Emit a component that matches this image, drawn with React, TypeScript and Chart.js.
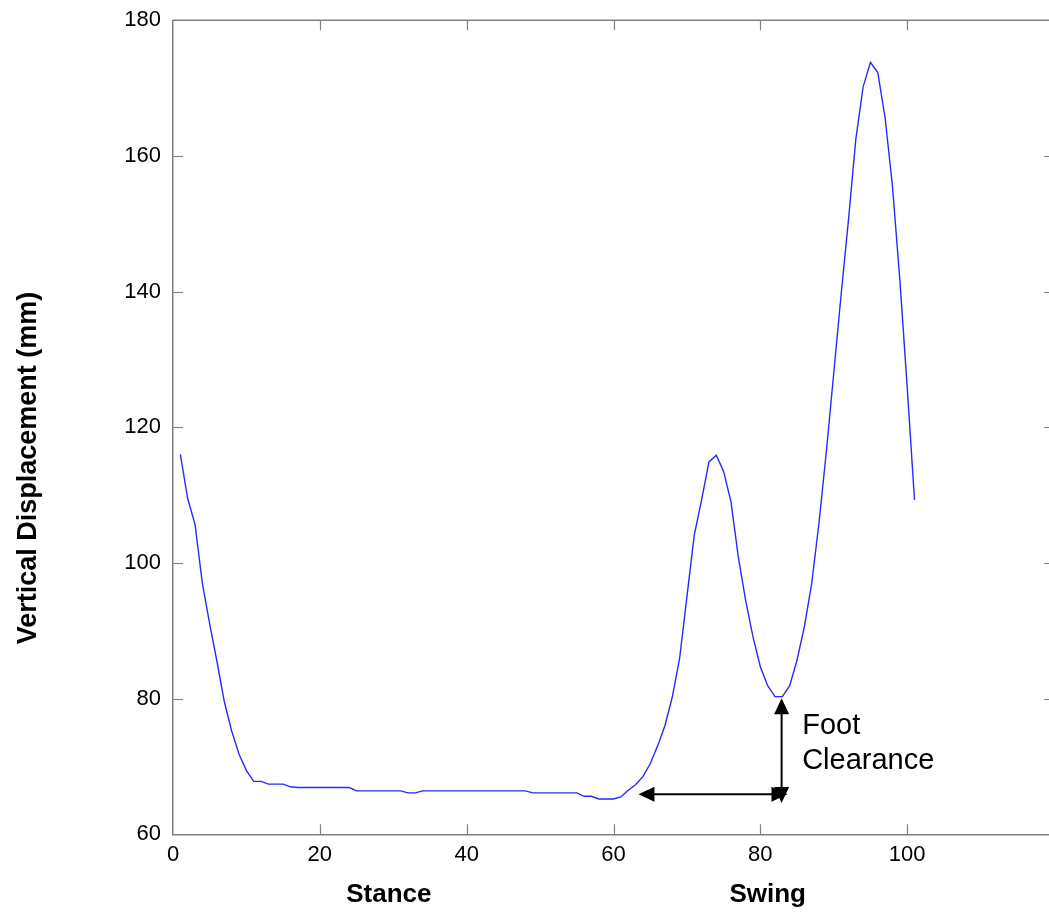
import React, { useEffect, useRef } from "react";
import { Chart, registerables } from "chart.js";

Chart.register(...registerables);

// Gait cycle (%) positions
const gaitPercent = [
  1, 2, 3, 4, 5, 6, 7, 8, 9, 10, 11, 12, 13, 14, 15, 16, 17, 18, 19, 20,
  21, 22, 23, 24, 25, 26, 27, 28, 29, 30, 31, 32, 33, 34, 35, 36, 37, 38, 39, 40,
  41, 42, 43, 44, 45, 46, 47, 48, 49, 50, 51, 52, 53, 54, 55, 56, 57, 58, 59, 60,
  61, 62, 63, 64, 65, 66, 67, 68, 69, 70, 71, 72, 73, 74, 75, 76, 77, 78, 79, 80,
  81, 82, 83, 84, 85, 86, 87, 88, 89, 90, 91, 92, 93, 94, 95, 96, 97, 98, 99, 100,
  101,
];

// Vertical displacement (mm)
const displacement = [
  116.0, 109.5, 105.7, 97.0, 91.0, 85.4, 79.5, 75.2, 71.8, 69.4,
  67.8, 67.8, 67.4, 67.4, 67.4, 67.0, 66.9, 66.9, 66.9, 66.9,
  66.9, 66.9, 66.9, 66.9, 66.4, 66.4, 66.4, 66.4, 66.4, 66.4,
  66.4, 66.1, 66.1, 66.4, 66.4, 66.4, 66.4, 66.4, 66.4, 66.4,
  66.4, 66.4, 66.4, 66.4, 66.4, 66.4, 66.4, 66.4, 66.1, 66.1,
  66.1, 66.1, 66.1, 66.1, 66.1, 65.6, 65.6, 65.2, 65.2, 65.2,
  65.5, 66.5, 67.3, 68.5, 70.4, 73.0, 76.0, 80.2, 85.9, 95.0,
  104.1, 109.3, 114.9, 115.9, 113.5, 109.0, 100.9, 94.5, 89.1, 84.7,
  81.9, 80.3, 80.3, 81.9, 85.7, 90.6, 97.0, 106.0, 116.5, 128.0,
  139.5, 150.5, 162.4, 170.2, 173.8, 172.3, 165.6, 155.5, 141.8, 126.0,
  109.3,
];

const xTicks = [0, 20, 40, 60, 80, 100, 120];
const yTicks = [60, 80, 100, 120, 140, 160, 180];

const yTitle = "Vertical Displacement (mm)";
const phaseLabels = ["Stance", "Swing"];
const phaseCenters = [29.4, 81.0];
const annotationLines = ["Foot", "Clearance"];
const annotationX = 85.7;
const annotationBaselines = [74.8, 69.7];

// Foot clearance arrows (data units)
const vArrowX = 82.9;
const vArrowY = [64.6, 80.05];
const hArrowX = [63.4, 83.7];
const hArrowY = 65.9;

const AXIS_COLOR = "#808080";
const LINE_COLOR = "rgb(40,40,255)";
const FONT = "'Liberation Sans', Arial, sans-serif";

function arrowHead(ctx: CanvasRenderingContext2D, tx: number, ty: number, dx: number, dy: number) {
  const len = 16;
  const hw = 7.5;
  const bx = tx - dx * len;
  const by = ty - dy * len;
  const px = -dy;
  const py = dx;
  ctx.beginPath();
  ctx.moveTo(tx, ty);
  ctx.lineTo(bx + px * hw, by + py * hw);
  ctx.lineTo(bx - px * hw, by - py * hw);
  ctx.closePath();
  ctx.fill();
}

const overlay = {
  id: "overlay",
  afterDraw(chart: any) {
    const { ctx, chartArea: a } = chart;
    const x = chart.scales.x;
    const y = chart.scales.y;
    ctx.save();
    // frame
    ctx.strokeStyle = AXIS_COLOR;
    ctx.lineWidth = 1.5;
    ctx.beginPath();
    ctx.moveTo(a.left, a.top);
    ctx.lineTo(a.right, a.top);
    ctx.lineTo(a.right, a.bottom);
    ctx.stroke();
    // inward tick marks
    ctx.lineWidth = 1.2;
    ctx.beginPath();
    for (const v of xTicks) {
      if (v <= x.min || v >= x.max) continue;
      const px = Math.round(x.getPixelForValue(v)) + 0.5;
      ctx.moveTo(px, a.bottom);
      ctx.lineTo(px, a.bottom - 10);
      ctx.moveTo(px, a.top);
      ctx.lineTo(px, a.top + 10);
    }
    for (const v of yTicks) {
      if (v <= y.min || v >= y.max) continue;
      const py = Math.round(y.getPixelForValue(v)) + 0.5;
      ctx.moveTo(a.left, py);
      ctx.lineTo(a.left + 10, py);
      ctx.moveTo(a.right, py);
      ctx.lineTo(a.right - 10, py);
    }
    ctx.stroke();

    // arrows
    ctx.strokeStyle = "#000";
    ctx.fillStyle = "#000";
    ctx.lineWidth = 2;
    const vx = x.getPixelForValue(vArrowX);
    const vy0 = y.getPixelForValue(vArrowY[0]);
    const vy1 = y.getPixelForValue(vArrowY[1]);
    ctx.beginPath();
    ctx.moveTo(vx, vy0 - 8);
    ctx.lineTo(vx, vy1 + 8);
    ctx.stroke();
    arrowHead(ctx, vx, vy0, 0, 1);
    arrowHead(ctx, vx, vy1, 0, -1);
    const hx0 = x.getPixelForValue(hArrowX[0]);
    const hx1 = x.getPixelForValue(hArrowX[1]);
    const hy = y.getPixelForValue(hArrowY);
    ctx.beginPath();
    ctx.moveTo(hx0 + 8, hy);
    ctx.lineTo(hx1 - 8, hy);
    ctx.stroke();
    arrowHead(ctx, hx0, hy, -1, 0);
    arrowHead(ctx, hx1, hy, 1, 0);

    // annotation text
    ctx.font = `29px ${FONT}`;
    ctx.textAlign = "left";
    ctx.textBaseline = "alphabetic";
    annotationLines.forEach((t, i) => {
      ctx.fillText(t, x.getPixelForValue(annotationX), y.getPixelForValue(annotationBaselines[i]));
    });

    // phase labels
    ctx.font = `bold 26px ${FONT}`;
    ctx.textAlign = "center";
    phaseLabels.forEach((t, i) => {
      ctx.fillText(t, x.getPixelForValue(phaseCenters[i]), a.bottom + 67.4);
    });

    // y title
    ctx.translate(29, 468);
    ctx.rotate(-Math.PI / 2);
    ctx.font = `bold 27px ${FONT}`;
    ctx.textAlign = "center";
    ctx.textBaseline = "middle";
    ctx.fillText(yTitle, 0, 0);
    ctx.restore();
  },
};

export default function App() {
  const ref = useRef<HTMLCanvasElement>(null);
  useEffect(() => {
    if (!ref.current) return;
    const chart = new Chart(ref.current, {
      type: "line",
      data: {
        datasets: [
          {
            data: gaitPercent.map((g, i) => ({ x: g, y: displacement[i] })),
            borderColor: LINE_COLOR,
            borderWidth: 1.4,
            pointRadius: 0,
            tension: 0,
            fill: false,
          },
        ],
      },
      options: {
        responsive: false,
        animation: false,
        devicePixelRatio: 1,
        layout: { padding: { left: 0, right: 21, top: 20.3, bottom: 0 } },
        plugins: { legend: { display: false }, tooltip: { enabled: false } },
        scales: {
          x: {
            type: "linear",
            min: 0,
            max: 120,
            afterFit: (s: any) => {
              s.height = 77.7;
              s.paddingLeft = 0;
              s.paddingRight = 0;
            },
            afterBuildTicks: (s: any) => {
              s.ticks = xTicks.map((v) => ({ value: v }));
            },
            ticks: {
              color: "#000",
              font: { family: FONT, size: 22 },
              padding: 7,
              maxRotation: 0,
              autoSkip: false,
              callback: (v: any) => (v === 120 ? "" : String(v)),
            },
            grid: { display: false, drawTicks: false },
            border: { display: true, color: AXIS_COLOR, width: 1.5 },
          },
          y: {
            min: 60,
            max: 180,
            afterFit: (s: any) => {
              s.width = 173;
              s.paddingTop = 0;
              s.paddingBottom = 0;
            },
            afterBuildTicks: (s: any) => {
              s.ticks = yTicks.map((v) => ({ value: v }));
            },
            ticks: {
              color: "#000",
              font: { family: FONT, size: 22 },
              padding: 12,
              autoSkip: false,
            },
            grid: { display: false, drawTicks: false },
            border: { display: true, color: AXIS_COLOR, width: 1.5 },
          },
        },
      },
      plugins: [overlay],
    });
    return () => chart.destroy();
  }, []);
  return (
    <div
      style={{
        position: "fixed",
        left: 0,
        top: 0,
        width: 1049,
        height: 912,
        overflow: "hidden",
        background: "#fff",
      }}
    >
      <canvas ref={ref} width={1075} height={912} style={{ display: "block" }} />
    </div>
  );
}
